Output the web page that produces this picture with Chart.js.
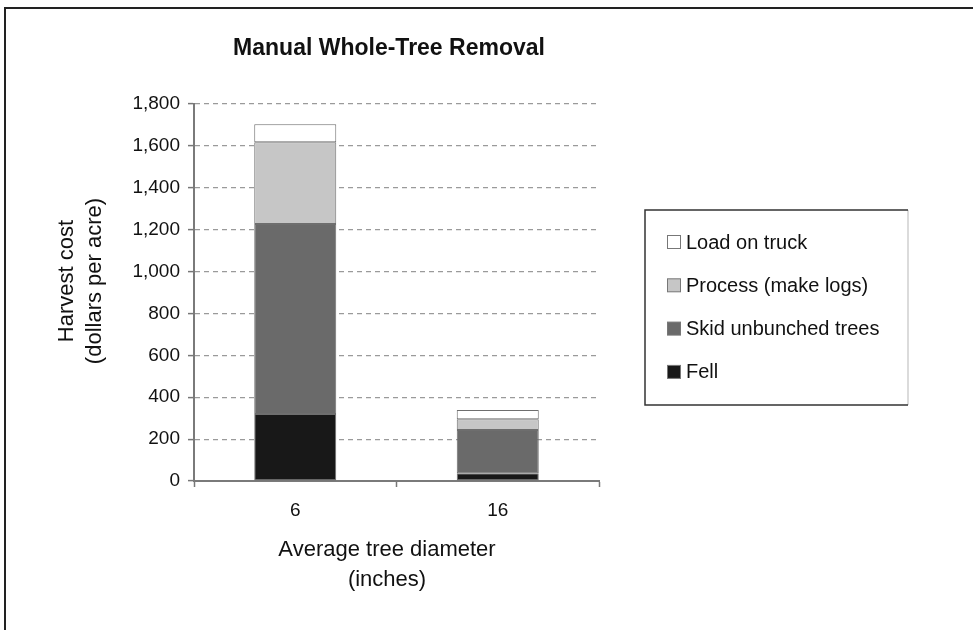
<!DOCTYPE html>
<html>
<head>
<meta charset="utf-8">
<style>
  body { margin: 0; background: #fff; }
  #wrap { width: 973px; height: 630px; }
</style>
<script src="https://cdn.jsdelivr.net/npm/chart.js@4.4.1/dist/chart.umd.min.js"></script>
</head>
<body>
<div id="wrap"><canvas id="chHarvest" width="973" height="630"></canvas></div>
<script>
// data (dollars per acre)
var diameters = ['6', '16'];
var fell = [320, 37];
var skid = [907, 206];
var processLogs = [390, 52];
var loadTruck = [86, 44];

var seriesNames = ['Fell', 'Skid unbunched trees', 'Process (make logs)', 'Load on truck'];
var seriesColors = ['#181818', '#6a6a6a', '#c6c6c6', '#ffffff'];
var yTicks = [0, 200, 400, 600, 800, 1000, 1200, 1400, 1600, 1800];

var FONT = "'Liberation Sans', Arial, sans-serif";
var INK = '#111';

function ds(i, values) {
  return {
    label: seriesNames[i],
    data: values,
    backgroundColor: seriesColors[i],
    borderColor: '#6e6e6e',
    borderWidth: 1,
    borderSkipped: false,
    categoryPercentage: 1,
    barPercentage: 0.405
  };
}

// frame, titles and the boxed legend
var decor = {
  id: 'decor',
  beforeDraw: function(chart) {
    var ctx = chart.ctx;
    ctx.save();
    ctx.strokeStyle = '#222';
    ctx.lineWidth = 2;
    ctx.beginPath();
    ctx.moveTo(5, 640);
    ctx.lineTo(5, 8);
    ctx.lineTo(973, 8);
    ctx.stroke();
    ctx.restore();
  },
  afterDraw: function(chart) {
    var ctx = chart.ctx;
    ctx.save();
    ctx.fillStyle = INK;
    ctx.textAlign = 'center';
    ctx.textBaseline = 'middle';

    ctx.font = 'bold 23px ' + FONT;
    ctx.fillText('Manual Whole-Tree Removal', 389, 49);

    ctx.font = '22px ' + FONT;
    ctx.fillText('Average tree diameter', 387, 550);
    ctx.fillText('(inches)', 387, 580);

    ctx.save();
    ctx.translate(67, 281);
    ctx.rotate(-Math.PI / 2);
    ctx.fillText('Harvest cost', 0, 0);
    ctx.restore();
    ctx.save();
    ctx.translate(95, 281);
    ctx.rotate(-Math.PI / 2);
    ctx.fillText('(dollars per acre)', 0, 0);
    ctx.restore();

    // legend box
    var bx = 645, by = 210, bw = 263, bh = 195;
    ctx.fillStyle = '#fff';
    ctx.fillRect(bx, by, bw, bh);
    ctx.lineWidth = 1.5;
    ctx.strokeStyle = '#cfcfcf';
    ctx.beginPath();
    ctx.moveTo(bx + bw, by);
    ctx.lineTo(bx + bw, by + bh);
    ctx.stroke();
    ctx.strokeStyle = '#333';
    ctx.beginPath();
    ctx.moveTo(bx + bw, by);
    ctx.lineTo(bx, by);
    ctx.lineTo(bx, by + bh);
    ctx.lineTo(bx + bw, by + bh);
    ctx.stroke();

    var sets = chart.data.datasets.slice().reverse();
    ctx.font = '20px ' + FONT;
    ctx.textAlign = 'left';
    sets.forEach(function(d, i) {
      var cy = 242 + i * 43.3;
      ctx.fillStyle = d.backgroundColor;
      ctx.fillRect(667.5, cy - 6.5, 13, 13);
      ctx.lineWidth = 1;
      ctx.strokeStyle = '#777';
      ctx.strokeRect(667.5, cy - 6.5, 13, 13);
      ctx.fillStyle = INK;
      ctx.fillText(d.label, 686, cy + 1);
    });
    ctx.restore();
  }
};

new Chart(document.getElementById('chHarvest'), {
  type: 'bar',
  data: {
    labels: diameters,
    datasets: [ds(0, fell), ds(1, skid), ds(2, processLogs), ds(3, loadTruck)]
  },
  options: {
    responsive: false,
    devicePixelRatio: 1,
    animation: false,
    layout: { padding: { top: 104, right: 374, left: 0, bottom: 0 } },
    plugins: {
      legend: { display: false },
      title: { display: false },
      tooltip: { enabled: false }
    },
    scales: {
      x: {
        stacked: true,
        afterFit: function(s) { s.height = 149; },
        grid: {
          offset: true,
          drawOnChartArea: false,
          tickLength: 6,
          tickColor: '#777',
          tickWidth: 1.5
        },
        border: { display: true, color: '#7a7a7a', width: 2 },
        ticks: { color: INK, font: { family: FONT, size: 19 }, padding: 12 }
      },
      y: {
        stacked: true,
        min: 0,
        max: 1800,
        afterFit: function(s) { s.width = 194; },
        afterBuildTicks: function(s) {
          s.ticks = yTicks.map(function(v) { return { value: v }; });
        },
        grid: {
          color: function(c) { return c.tick && c.tick.value === 0 ? 'rgba(0,0,0,0)' : '#9a9a9a'; },
          lineWidth: 1.2,
          tickLength: 6,
          tickColor: '#777',
          tickWidth: 1.5,
          tickBorderDash: []
        },
        border: { display: true, color: '#7a7a7a', width: 2, dash: [5, 4] },
        ticks: {
          color: INK,
          font: { family: FONT, size: 19 },
          padding: 8,
          callback: function(v) { return v.toLocaleString('en-US'); }
        }
      }
    }
  },
  plugins: [decor]
});
</script>
</body>
</html>
